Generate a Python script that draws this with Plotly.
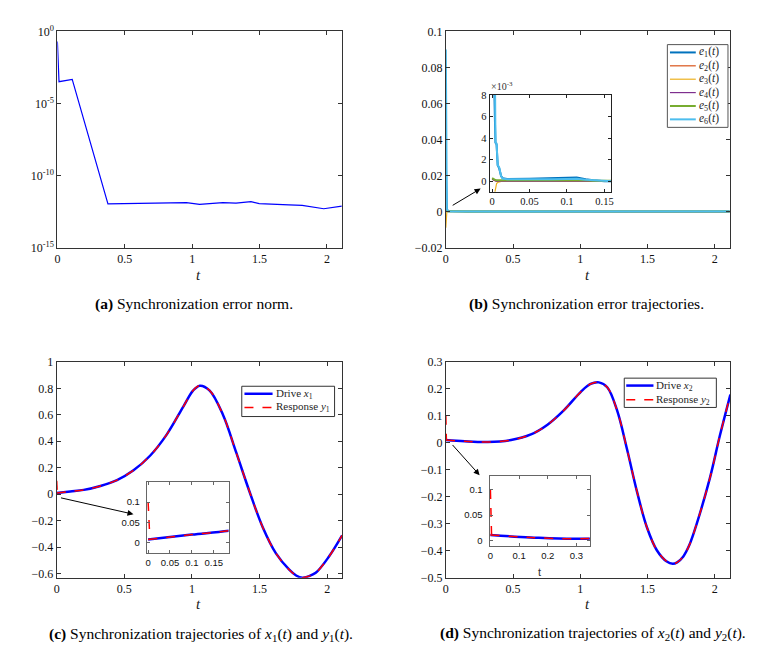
import plotly.graph_objects as go

W, H = 763, 650
SERIF = "Liberation Serif, Times New Roman, serif"
SANS = "Liberation Sans, Arial, sans-serif"

# (a) error norm, log scale
t_norm = [0, 0.012, 0.11, 0.375, 0.957, 1.055, 1.227, 1.325, 1.436, 1.497, 1.718, 1.816, 1.976, 2.11]
e_norm = [2e-1, 3.2e-4, 4.6e-4, 1.07e-12, 1.3e-12, 1.0e-12, 1.3e-12, 1.2e-12, 1.55e-12,
          1.1e-12, 9.1e-13, 8.3e-13, 4.9e-13, 7.4e-13]

# (b) error trajectories
t_err = [0, 0.002, 0.004, 0.0045, 0.006, 0.0075, 0.0095, 0.012, 0.014, 0.02, 0.05, 0.08,
         0.1, 0.113, 0.125, 0.135, 0.15, 0.16, 0.5, 1.0, 1.5, 2.11]
e1 = [0.028, 0.012, 0.005, 0.0036, 0.0034, 0.0015, 0.0012, 0.0005, 0.0003, 0.00022, 0.00025,
      0.00028, 0.0003, 0.00035, 0.0002, 0.0001, 0.00002, 0, 0, 0, 0, 0]
e2 = [0.0002, 0.0001, 0.00005, 0.00004, 0.00003, 0.00002, 0.00001, 0.00001, 0.00001, 0.00001,
      0.00001, 0.00001, 0.00001, 0.00001, 0, 0, 0, 0, 0, 0, 0, 0]
e3 = [-0.009, -0.003, -0.0009, -0.0006, -0.0002, -0.0001, -0.00003, 0.0, 0.00003, 0.00005,
      0.00006, 0.00007, 0.00007, 0.00007, 0.00005, 0.00003, 0.0, 0, 0, 0, 0, 0]
e4 = [0.0002, 0.0001, 0.00005, 0.00004, 0.00003, 0.00002, 0.00001, 0.00001, 0.00001, 0.00001,
      0.00001, 0.00001, 0.00001, 0.00001, 0, 0, 0, 0, 0, 0, 0, 0]
e5 = [0.0003, 0.0002, 0.00015, 0.00012, 0.0001, 0.0001, 0.0001, 0.0001, 0.0001, 0.0001, 0.00012,
      0.00015, 0.00016, 0.00016, 0.0001, 0.00005, 0.00001, 0, 0, 0, 0, 0]
e6 = [0.090, 0.030, 0.0085, 0.0036, 0.0035, 0.0015, 0.0013, 0.0005, 0.00025, 0.0002, 0.00018,
      0.0002, 0.00022, 0.00025, 0.00015, 0.0001, 0.00002, 0, 0, 0, 0, 0]
err_series = [e1, e2, e3, e4, e5, e6]
err_names = ["e1", "e2", "e3", "e4", "e5", "e6"]
err_colors = ["#0072BD", "#D95319", "#EDB120", "#7E2F8E", "#77AC30", "#4DBEEE"]
err_widths = [2, 1.2, 1.2, 1.2, 2, 2]

# (c) drive x1 / response y1
t_x1 = [0, 0.1, 0.2, 0.323, 0.446, 0.568, 0.69, 0.813, 0.935, 1.008, 1.058, 1.131, 1.229,
        1.327, 1.425, 1.523, 1.621, 1.719, 1.77, 1.816, 1.86, 1.915, 2.013, 2.11]
x1 = [0.008, 0.02, 0.032, 0.062, 0.106, 0.18, 0.29, 0.45, 0.66, 0.783, 0.82, 0.783, 0.6,
      0.315, 0.02, -0.25, -0.448, -0.571, -0.615, -0.632, -0.622, -0.595, -0.472, -0.312]
t_y1_start = [0, 0.004]
y1_start = [0.1, 0.011]

# (d) drive x2 / response y2
t_x2 = [0, 0.14, 0.313, 0.485, 0.633, 0.756, 0.879, 1.002, 1.076, 1.138, 1.2, 1.273, 1.347,
        1.421, 1.495, 1.569, 1.643, 1.687, 1.72, 1.766, 1.81, 1.865, 1.963, 2.037, 2.116]
x2 = [0.0105, 0.0057, 0.003, 0.0104, 0.031, 0.067, 0.121, 0.188, 0.218, 0.224, 0.206, 0.121,
      -0.023, -0.18, -0.313, -0.398, -0.44, -0.448, -0.443, -0.421, -0.38, -0.301, -0.132,
      0.025, 0.179]
t_y2_start = [0, 0.004]
y2_start = [0.1, 0.011]


def px(x):
    return x / W


def py(y):
    return 1 - y / H


def box_axis(x0, x1_, rng, anchor, horizontal, line="#333333", font=SERIF, size=12, **kw):
    if horizontal:
        dom = [px(x0), px(x1_)]
    else:
        dom = [py(x1_), py(x0)]
    d = dict(domain=dom, range=rng, anchor=anchor, showline=True, mirror="ticks",
             linecolor=line, linewidth=1, ticks="inside", ticklen=4, tickcolor=line,
             showgrid=False, zeroline=False,
             tickfont=dict(family=font, size=size, color="#111111"))
    d.update(kw)
    return d


fig = go.Figure()

# (a)
fig.add_trace(go.Scatter(x=t_norm, y=e_norm, mode="lines", line=dict(color="#0000FF", width=1.2),
                         showlegend=False, xaxis="x", yaxis="y"))

# (b) main and inset
for xa, ya in [("x2", "y2"), ("x3", "y3")]:
    for e, c, w in zip(err_series, err_colors, err_widths):
        fig.add_trace(go.Scatter(x=t_err, y=e, mode="lines", line=dict(color=c, width=w),
                                 showlegend=False, xaxis=xa, yaxis=ya))

# (c) and (d): main + inset
for tx, xs, ty0, ys0, ax_pairs in [
        (t_x1, x1, t_y1_start, y1_start, [("x4", "y4"), ("x5", "y5")]),
        (t_x2, x2, t_y2_start, y2_start, [("x6", "y6"), ("x7", "y7")])]:
    for xa, ya in ax_pairs:
        fig.add_trace(go.Scatter(x=tx, y=xs, mode="lines",
                                 line=dict(color="#0000FF", width=2.5, shape="spline"),
                                 showlegend=False, xaxis=xa, yaxis=ya))
        fig.add_trace(go.Scatter(x=tx, y=xs, mode="lines",
                                 line=dict(color="#FF0000", width=1.5, dash="dash", shape="spline"),
                                 showlegend=False, xaxis=xa, yaxis=ya))
        fig.add_trace(go.Scatter(x=ty0, y=ys0, mode="lines",
                                 line=dict(color="#FF0000", width=1.5, dash="dash"),
                                 showlegend=False, xaxis=xa, yaxis=ya))

tick_t = dict(tickvals=[0, 0.5, 1, 1.5, 2])
fig.update_layout(
    width=W, height=H, margin=dict(l=0, r=0, t=0, b=0),
    paper_bgcolor="white", plot_bgcolor="white", showlegend=False,
    # (a)
    xaxis=box_axis(46.7, 333, [0, 2.11], "y", True, **tick_t),
    yaxis=box_axis(15.7, 237, [-15, 0], "x", False, type="log",
                   tickvals=[1, 1e-5, 1e-10, 1e-15],
                   ticktext=["10<sup>0</sup>", "10<sup>-5</sup>", "10<sup>-10</sup>", "10<sup>-15</sup>"]),
    # (b)
    xaxis2=box_axis(437.7, 724, [0, 2.115], "y2", True, **tick_t),
    yaxis2=box_axis(15.7, 237, [-0.02, 0.1001], "x2", False, dtick=0.02, tick0=0),
    xaxis3=box_axis(481.7, 604.3, [-0.0034, 0.1592], "y3", True, line="#222222", size=10.5,
                    tickvals=[0, 0.05, 0.1, 0.15], ticklen=3),
    yaxis3=box_axis(80.7, 180, [-0.00097, 0.00801], "x3", False, line="#222222", size=10.5,
                    tickvals=[0, 0.002, 0.004, 0.006, 0.008], ticktext=["0", "2", "4", "6", "8"],
                    ticklen=3),
    # (c)
    xaxis4=box_axis(46, 333.3, [0, 2.11], "y4", True, **tick_t),
    yaxis4=box_axis(354, 575, [-0.632, 1.0001], "x4", False, dtick=0.2, tick0=0),
    xaxis5=box_axis(136.7, 219, [-0.003, 0.184], "y5", True, line="#666666", font=SANS, size=9.5,
                    tickvals=[0, 0.05, 0.1, 0.15], ticklen=3),
    yaxis5=box_axis(476.7, 550, [-0.026, 0.15], "x5", False, line="#666666", font=SANS, size=9.5,
                    tickvals=[0, 0.05, 0.1], ticklen=3, ticklabelstandoff=4),
    # (d)
    xaxis6=box_axis(437.7, 724, [0, 2.115], "y6", True, **tick_t),
    yaxis6=box_axis(354, 575, [-0.5, 0.3001], "x6", False, dtick=0.1, tick0=0),
    xaxis7=box_axis(481.7, 582.7, [-0.003, 0.347], "y7", True, line="#666666", font=SANS, size=9.5,
                    tickvals=[0, 0.1, 0.2, 0.3], ticklen=3),
    yaxis7=box_axis(470.7, 542.7, [-0.0117, 0.128], "x7", False, line="#666666", font=SANS, size=9.5,
                    tickvals=[0, 0.05, 0.1], ticklen=3, ticklabelstandoff=4),
)

ann = []
shapes = []
# captions and axis labels
for cx, cy, txt in [
        (184, 295, "<b>(a)</b> Synchronization error norm."),
        (579, 295, "<b>(b)</b> Synchronization error trajectories."),
        (191, 633, "<b>(c)</b> Synchronization trajectories of <i>x</i><sub>1</sub>(<i>t</i>) and <i>y</i><sub>1</sub>(<i>t</i>)."),
        (586, 632, "<b>(d)</b> Synchronization trajectories of <i>x</i><sub>2</sub>(<i>t</i>) and <i>y</i><sub>2</sub>(<i>t</i>).")]:
    ann.append(dict(x=px(cx), y=py(cy), xref="paper", yref="paper", xanchor="center",
                    yanchor="middle", text=txt, showarrow=False,
                    font=dict(family=SERIF, size=15.5, color="black")))
for cx, cy in [(189, 265), (580, 265), (189, 602), (580, 602)]:
    ann.append(dict(x=px(cx), y=py(cy), xref="paper", yref="paper", xanchor="center",
                    yanchor="middle", text="<i>t</i>", showarrow=False,
                    font=dict(family=SERIF, size=15, color="#222222")))
ann.append(dict(x=px(531.7), y=py(569), xref="paper", yref="paper", xanchor="center",
                yanchor="middle", text="t", showarrow=False,
                font=dict(family=SANS, size=11, color="#333333")))
ann.append(dict(x=px(481), y=py(80), xref="paper", yref="paper", xanchor="left", yanchor="bottom",
                text="×10<sup>-3</sup>", showarrow=False,
                font=dict(family=SERIF, size=10, color="#333333")))
# zoom arrows
for hx, hy, tx_, ty_ in [(472.7, 176.7, 443.3, 194.3), (123.3, 510, 49.3, 493.3),
                         (471.7, 470, 443.3, 438.3)]:
    ann.append(dict(x=px(hx), y=py(hy), xref="paper", yref="paper", text="", showarrow=True,
                    ax=tx_ - hx, ay=ty_ - hy, arrowhead=2, arrowsize=1.2, arrowwidth=1,
                    arrowcolor="black"))


# legends drawn as boxes with sample lines
def legend_box(x0, y0, x1_, y1_, border):
    shapes.append(dict(type="rect", xref="paper", yref="paper", x0=px(x0), x1=px(x1_),
                       y0=py(y1_), y1=py(y0), fillcolor="white", line=dict(color=border, width=1),
                       layer="above"))


def legend_entry(xs, xe, yc, color, width, dash, text, size):
    shapes.append(dict(type="line", xref="paper", yref="paper", x0=px(xs), x1=px(xe),
                       y0=py(yc), y1=py(yc), line=dict(color=color, width=width, dash=dash),
                       layer="above"))
    ann.append(dict(x=px(xe + 1), y=py(yc), xref="paper", yref="paper", xanchor="left",
                    yanchor="middle", text=text, showarrow=False,
                    font=dict(family=SERIF, size=size, color="#262626")))


legend_box(660.7, 29.3, 721.7, 114, "#555555")
for i, (nm, c, w) in enumerate(zip(err_names, err_colors, err_widths)):
    legend_entry(663.3, 689.3, 37.3 + 13.7 * i, c, w, "solid",
                 "<i>e</i><sub>%s</sub>(<i>t</i>)" % nm[1:], 11.5)

for (bx0, by0, bx1, by1), (lx0, lx1, ly0, ly1), n in [
        ((232.3, 379, 325.7, 410), (235, 263.3, 386.7, 400.7), 1),
        ((617.3, 370.7, 710, 400.7), (619.3, 646.7, 378.3, 392.7), 2)]:
    legend_box(bx0, by0, bx1, by1, "#333333")
    legend_entry(lx0, lx1, ly0, "#0000FF", 2.5, "solid", "Drive <i>x</i><sub>%d</sub>" % n, 11)
    legend_entry(lx0, lx1, ly1, "#FF0000", 1.5, "dash", "Response <i>y</i><sub>%d</sub>" % n, 11)

fig.update_layout(annotations=ann, shapes=shapes)

fig.write_html("out.html")
